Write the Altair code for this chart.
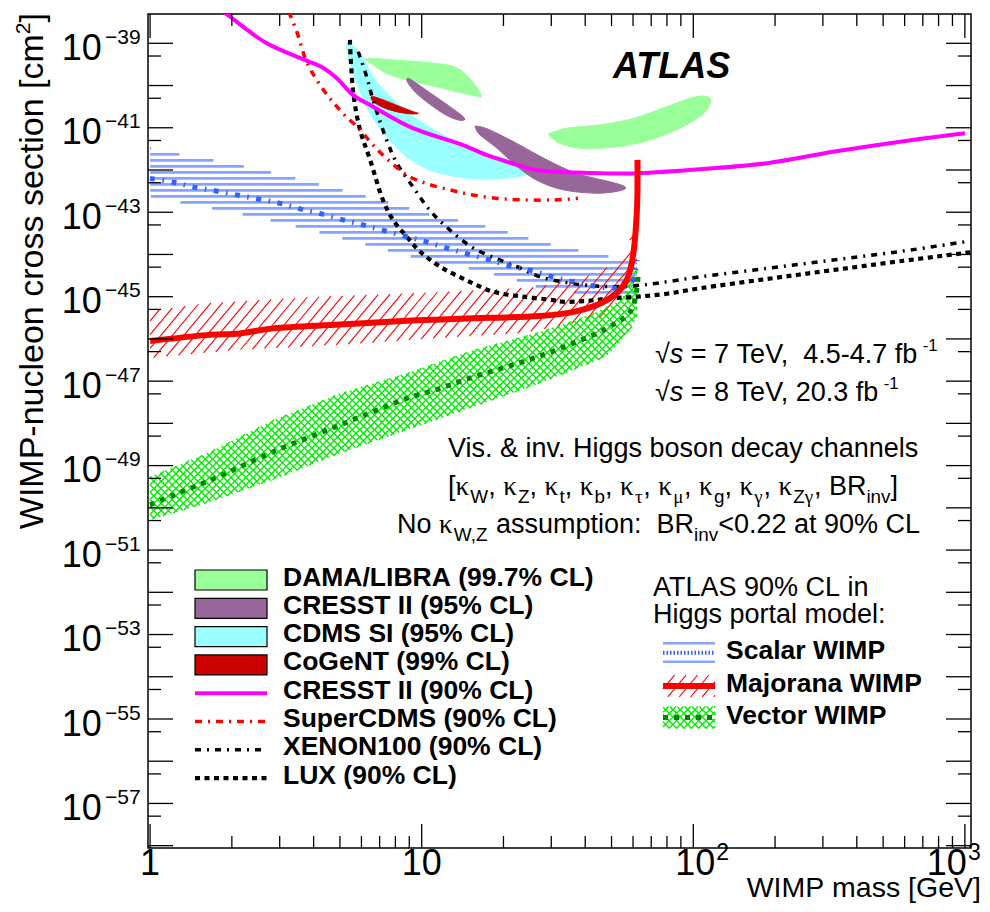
import numpy as np
import pandas as pd
import altair as alt

# ------------------------------------------------------------------
# Values: WIMP mass [GeV], log10(sigma / cm^2)
# ------------------------------------------------------------------
cresst90_m = [1.86, 1.97, 2.69, 3.77, 4.33, 4.86, 5.58, 6.62, 9.29, 14.2, 17.4, 19.4, 26.6, 37.3, 60.0, 106, 187, 327, 577, 1000]
cresst90_s = [-38.25, -38.37, -39.00, -39.41, -39.58, -39.82, -40.22, -40.50, -41.01, -41.41, -41.65, -41.75, -42.00, -42.06, -42.08, -41.98, -41.84, -41.57, -41.33, -41.13]
supercdms_m = [3.24, 3.47, 3.77, 4.11, 4.59, 5.13, 5.93, 6.62, 7.64, 8.81, 10.4, 12.7, 15.4, 20.6, 30.4, 37.6]
supercdms_s = [-38.25, -38.73, -39.44, -39.87, -40.30, -40.66, -41.05, -41.41, -41.80, -42.12, -42.32, -42.47, -42.59, -42.69, -42.71, -42.67]
xenon_m = [5.84, 6.27, 6.62, 7.43, 8.09, 9.29, 10.7, 12.7, 15.5, 19.4, 23.0, 27.3, 33.1, 39.3, 48.1, 58.5, 73.5, 106, 187, 327, 577, 1000]
xenon_s = [-39.20, -39.79, -40.34, -41.29, -41.83, -42.40, -42.95, -43.42, -43.85, -44.13, -44.32, -44.53, -44.65, -44.72, -44.76, -44.75, -44.68, -44.53, -44.33, -44.13, -43.93, -43.70]
lux_m = [5.44, 5.60, 5.93, 6.46, 7.20, 7.84, 8.81, 9.86, 11.7, 14.6, 18.3, 23.6, 30.4, 33.1, 40.6, 49.3, 62.1, 80.0, 106, 187, 327, 577, 1045]
lux_s = [-38.92, -40.18, -41.05, -41.76, -42.71, -43.18, -43.58, -43.93, -44.29, -44.61, -44.88, -45.00, -45.08, -45.12, -45.10, -45.04, -45.00, -44.93, -44.80, -44.58, -44.37, -44.16, -43.95]

scalar_m = [1.0, 1.215, 1.44, 1.73, 2.08, 2.50, 3.01, 3.56, 4.28, 5.13, 6.08, 7.33, 8.81, 10.4, 12.4, 14.8, 17.8, 21.1, 25.4, 30.4, 36.1, 43.5, 52.4, 57.5, 60.0, 62.1]
scalar_s = [-42.20, -42.29, -42.40, -42.49, -42.59, -42.69, -42.79, -42.92, -43.04, -43.18, -43.30, -43.44, -43.58, -43.70, -43.85, -43.99, -44.13, -44.27, -44.38, -44.53, -44.65, -44.75, -44.80, -44.72, -44.60, -44.13]
scalar_hi_m = [1.0, 1.135, 1.484, 1.968, 2.47, 3.09, 3.77, 4.66, 5.60, 6.83, 8.32, 10.5, 16.4, 20.6, 25.1, 31.5, 44.2, 62.1]
scalar_hi_s = [-41.48, -41.57, -41.70, -41.84, -41.98, -42.12, -42.27, -42.41, -42.55, -42.69, -42.84, -43.04, -43.30, -43.47, -43.63, -43.80, -43.99, -44.18]
scalar_lo_m = [1.0, 1.118, 1.484, 1.94, 2.47, 3.09, 3.77, 4.66, 5.60, 6.83, 8.19, 10.7, 14.7, 21.1, 28.9, 38.3, 62.1]
scalar_lo_s = [-42.62, -42.69, -42.84, -42.98, -43.12, -43.26, -43.40, -43.55, -43.69, -43.83, -43.97, -44.16, -44.32, -44.56, -44.84, -44.91, -44.94]

majorana_m = [1.0, 1.615, 2.14, 2.84, 5.00, 8.81, 11.7, 17.8, 27.3, 36.2, 45.4, 52.2, 56.9, 59.3, 60.5, 61.5, 62.2, 62.3]
majorana_s = [-46.05, -45.91, -45.87, -45.75, -45.66, -45.57, -45.54, -45.50, -45.46, -45.36, -45.16, -44.92, -44.60, -44.21, -43.85, -43.34, -42.71, -41.76]
majorana_hi_m = [1.0, 1.62, 3.78, 11.7, 27.1, 41.6, 48.3, 54.2, 58.9, 62.1]
majorana_hi_s = [-45.34, -45.15, -45.01, -44.89, -44.77, -44.49, -44.30, -44.02, -43.61, -43.30]
majorana_lo_m = [1.0, 2.14, 5.00, 11.7, 23.6, 33.9, 45.4, 54.2, 60.0, 62.1]
majorana_lo_s = [-46.45, -46.26, -46.14, -45.98, -45.86, -45.67, -45.50, -45.20, -44.72, -44.18]

vector_m = [1.0, 1.217, 1.615, 2.14, 2.84, 3.77, 5.00, 6.63, 8.81, 11.7, 15.5, 20.6, 27.3, 36.2, 48.0, 58.5, 61.9, 62.6]
vector_s = [-49.93, -49.70, -49.38, -49.03, -48.67, -48.35, -48.04, -47.72, -47.41, -47.17, -46.90, -46.66, -46.40, -46.10, -45.75, -45.36, -44.84, -44.53]
vector_hi_m = [1.0, 1.615, 2.84, 5.00, 8.81, 15.5, 27.3, 41.6, 54.2, 62.1]
vector_hi_s = [-49.26, -48.71, -47.92, -47.29, -46.81, -46.26, -45.83, -45.43, -45.08, -44.27]
vector_lo_m = [1.0, 1.615, 2.84, 5.00, 8.81, 15.5, 27.3, 48.0, 58.5, 62.1]
vector_lo_s = [-50.29, -49.89, -49.34, -48.71, -48.16, -47.61, -47.05, -46.42, -45.79, -45.48]

dama1_m = [6.27, 8.09, 10.7, 13.1, 14.6, 15.9, 16.6, 15.9, 13.5, 10.7, 8.81, 7.43, 6.63]
dama1_s = [-39.36, -39.40, -39.46, -39.55, -39.75, -40.03, -40.25, -40.25, -40.15, -39.99, -39.87, -39.71, -39.51]
dama2_m = [29.7, 34.2, 45.4, 60.1, 79.8, 100, 112, 116, 109, 91.9, 69.3, 52.2, 39.4, 32.3, 29.5]
dama2_s = [-41.13, -41.01, -40.93, -40.78, -40.50, -40.28, -40.26, -40.38, -40.66, -40.97, -41.29, -41.45, -41.49, -41.37, -41.17]
cresst1_m = [8.93, 9.58, 11.0, 12.7, 14.0, 14.4, 13.5, 12.0, 10.4, 9.45, 8.85]
cresst1_s = [-39.83, -39.95, -40.22, -40.50, -40.70, -40.81, -40.81, -40.66, -40.38, -40.15, -39.91]
cresst2_m = [15.9, 17.8, 22.4, 28.9, 37.2, 49.4, 56.1, 53.7, 44.1, 33.2, 26.5, 22.4, 18.9, 16.4, 15.8]
cresst2_s = [-40.96, -41.05, -41.37, -41.76, -42.08, -42.28, -42.40, -42.49, -42.55, -42.47, -42.24, -41.91, -41.48, -41.17, -41.01]
cdms_m = [5.30, 5.93, 6.63, 7.64, 9.31, 11.7, 15.1, 18.9, 23.7, 26.1, 25.8, 22.4, 16.9, 13.5, 10.7, 8.81, 7.43, 6.45, 5.84, 5.45]
cdms_s = [-39.00, -39.24, -39.79, -40.26, -40.74, -41.13, -41.49, -41.69, -41.80, -41.92, -42.04, -42.16, -42.22, -42.16, -42.00, -41.69, -41.21, -40.66, -40.03, -39.47]
cogent_m = [6.55, 7.22, 8.32, 9.31, 9.72, 9.05, 8.09, 7.22, 6.63]
cogent_s = [-40.26, -40.34, -40.50, -40.62, -40.66, -40.67, -40.62, -40.52, -40.38]

legend_left = ["DAMA/LIBRA (99.7% CL)", "CRESST II (95% CL)", "CDMS SI (95% CL)", "CoGeNT (99% CL)",
               "CRESST II (90% CL)", "SuperCDMS (90% CL)", "XENON100 (90% CL)", "LUX (90% CL)"]
legend_right = ["Scalar WIMP", "Majorana WIMP", "Vector WIMP"]
xlab_vals = [1, 10, 100, 1000]
xlab_exp = ["", "", "2", "3"]
ylab_exp = list(range(-39, -58, -2))

# ------------------------------------------------------------------
# Layout / style
# ------------------------------------------------------------------
SANS = "Liberation Sans"
SERIF = "Liberation Serif"
OX, OY = 148.0, 14.0          # page position of the plot frame
W, H = 823, 834
LX0, LX1 = -0.00773, 3.0225
LY0, LY1 = -58.055, -38.306
Dx = W / (LX1 - LX0)
Dy = H / (LY1 - LY0)
xs = alt.Scale(type="log", domain=[10 ** LX0, 10 ** LX1], nice=False)
ys = alt.Scale(type="log", domain=[10 ** LY0, 10 ** LY1], nice=False)

C_DAMA, C_CRESST, C_CDMS, C_COGENT = "#99ff99", "#98679a", "#99ffff", "#cc0000"
C_MAG, C_RED, C_BLUE, C_HBLUE, C_HGREEN, C_DGREEN = "#ff00ff", "#ff0000", "#2f62ff", "#86a4ff", "#00ee00", "#008800"
DASH_SCDMS = [7, 6, 2, 6]
DASH_XENON = [6, 6, 2, 6]
DASH_LUX = [5, 4.5]
DASH_SCALAR = [5, 7.5, 1.6, 7.5]
DASH_VECTOR = [5, 6]


def XQ(f):
    return alt.X(f, type="quantitative", scale=xs, axis=None)


def YQ(f):
    return alt.Y(f, type="quantitative", scale=ys, axis=None)


def curve(m, s, color, width, dash=None, interp="catmull-rom"):
    df = pd.DataFrame({"m": m, "s": 10.0 ** np.asarray(s), "i": np.arange(len(m))})
    kw = dict(color=color, strokeWidth=width, clip=True, strokeCap="butt", interpolate=interp)
    if dash:
        kw["strokeDash"] = dash
    return alt.Chart(df).mark_line(**kw).encode(x=XQ("m"), y=YQ("s"), order="i:Q")


def blob(m, s, color):
    df = pd.DataFrame({"m": m, "s": 10.0 ** np.asarray(s), "i": np.arange(len(m))})
    return alt.Chart(df).mark_line(fill=color, stroke=color, strokeWidth=1, clip=True,
                                   interpolate="cardinal-closed").encode(x=XQ("m"), y=YQ("s"), order="i:Q")


def hatch_core(u, vlo, vhi, slope, spacing):
    step = spacing * np.hypot(1.0, slope)
    c0 = vlo - slope * u
    c1 = vhi - slope * u
    cs = np.arange(np.floor(min(c0.min(), c1.min()) / step) * step, max(c0.max(), c1.max()) + step, step)
    out = []
    for c in cs:
        v = slope * u + c
        ins = (v >= vlo) & (v <= vhi)
        d = np.diff(np.r_[0, ins.astype(int), 0])
        st = np.flatnonzero(d == 1)
        en = np.flatnonzero(d == -1) - 1
        for a, b in zip(st, en):
            if b > a:
                out.append((u[a], v[a], u[b], v[b]))
    return out


def hatch_data(lo_m, lo_s, hi_m, hi_s, slope, spacing, n=2500):
    lxl, lxh = np.log10(lo_m), np.log10(hi_m)
    lx = np.linspace(max(lxl[0], lxh[0]), min(lxl[-1], lxh[-1]), n)
    lo = np.interp(lx, lxl, lo_s)
    hi = np.interp(lx, lxh, hi_s)
    segs = hatch_core(lx * Dx, lo * Dy, hi * Dy, slope, spacing)
    rows = [(10 ** (a / Dx), 10 ** (b / Dy), 10 ** (c / Dx), 10 ** (d / Dy)) for a, b, c, d in segs]
    return pd.DataFrame(rows, columns=["x1", "y1", "x2", "y2"])


def seg_layer(df, color, width):
    return alt.Chart(df).mark_rule(color=color, strokeWidth=width, clip=True).encode(
        x=XQ("x1"), y=YQ("y1"), x2="x2:Q", y2="y2:Q")


def PX(f):
    return alt.X(f, type="quantitative", scale=None, axis=None)


def PY(f):
    return alt.Y(f, type="quantitative", scale=None, axis=None)


def px_rules(rows, color, width, dash=None):
    df = pd.DataFrame([(a - OX, b - OY, c - OX, d - OY) for a, b, c, d in rows], columns=["x1", "y1", "x2", "y2"])
    kw = dict(color=color, strokeWidth=width, strokeCap="butt")
    if dash:
        kw["strokeDash"] = dash
    return alt.Chart(df).mark_rule(**kw).encode(x=PX("x1"), y=PY("y1"), x2="x2:Q", y2="y2:Q")


def px_hatch_box(x0, x1, y0, y1, slope, spacing):
    u = np.linspace(x0, x1, 400)
    segs = hatch_core(u, np.full_like(u, -y1), np.full_like(u, -y0), slope, spacing)
    return [(a, -b, c, -d) for a, b, c, d in segs]


# ------------------------------------------------------------------
# Text helpers (Arial-metric widths, 1/1000 em)
# ------------------------------------------------------------------
AW = {" ": 278, "!": 278, "%": 889, "&": 667, "(": 333, ")": 333, ",": 278, "-": 333, ".": 278,
      "/": 278, ":": 278, "<": 584, "=": 584, "[": 278, "]": 278, "\u221a": 549, "\u2212": 584,
      "\u03ba": 550, "\u03c4": 440, "\u03bc": 580, "\u03b3": 480}
for ch in "0123456789":
    AW[ch] = 556
AW.update(dict(zip("ABCDEFGHIJKLMNOPQRSTUVWXYZ",
                   [667, 667, 722, 722, 667, 611, 778, 722, 278, 500, 667, 556, 833, 722, 778, 667, 778, 722, 667, 611, 722, 667, 944, 667, 667, 611])))
AW.update(dict(zip("abcdefghijklmnopqrstuvwxyz",
                   [556, 556, 500, 556, 556, 278, 556, 556, 222, 222, 500, 222, 833, 556, 556, 556, 556, 333, 500, 278, 556, 500, 722, 500, 500, 500])))


def tw(txt, fs):
    return sum(AW.get(ch, 556) for ch in txt) * fs / 1000.0


ann = []


def put(px, py, txt, fs, fam=SANS, sty="normal", wt="normal", align="left", angle=0):
    ann.append(dict(px=px - OX, py=py - OY, txt=txt.replace(" ", "\u00a0"), fs=fs, fam=fam, sty=sty,
                    wt=wt, align=align, angle=angle))


def run(pieces, x0, base, F):
    x = x0
    for txt, kind in pieces:
        fam, sty, fs, dy = SANS, "normal", F, 0.0
        if kind == "it":
            sty = "italic"
        elif kind == "g":
            fam = SERIF
        elif kind == "sub":
            fs, dy = 0.7 * F, 0.3 * F
        elif kind == "subg":
            fam, fs, dy = SERIF, 0.7 * F, 0.3 * F
        elif kind == "sup":
            fs, dy = 0.62 * F, -0.45 * F
        lead = len(txt) - len(txt.lstrip(" "))
        x += tw(" " * lead, fs)
        core = txt.strip(" ")
        if core:
            put(x, base + dy, core, fs, fam=fam, sty=sty)
        x += tw(txt.lstrip(" "), fs)


K = "\u03ba"
F = 27
run([("\u221a", "n"), ("s", "it"), (" = 7 TeV,  4.5-4.7 fb", "n"), ("-1", "sup")], 655, 363, F)
run([("\u221a", "n"), ("s", "it"), (" = 8 TeV, 20.3 fb", "n"), ("-1", "sup")], 655, 401, F)
run([("Vis. & inv. Higgs boson decay channels", "n")], 448, 457, F)
p4 = [("[", "n")]
for sub, kind in [("W", "sub"), ("Z", "sub"), ("t", "sub"), ("b", "sub"), ("\u03c4", "subg"), ("\u03bc", "subg"),
                  ("g", "sub"), ("\u03b3", "subg")]:
    p4 += [(K, "g"), (sub, kind), (", ", "n")]
p4 += [(K, "g"), ("Z", "sub"), ("\u03b3", "subg"), (", BR", "n"), ("inv", "sub"), ("]", "n")]
run(p4, 448, 495, F)
run([("No ", "n"), (K, "g"), ("W,Z", "sub"), (" assumption:  BR", "n"), ("inv", "sub"), ("<0.22 at 90% CL", "n")], 397, 533, F)

put(613, 78, "ATLAS", 36, sty="italic", wt="bold")

# left legend
LBOX_X0, LBOX_X1 = 195, 267
lrow = [580 + 28.3 * k for k in range(8)]
for k, lab in enumerate(legend_left):
    put(283, lrow[k] + 5.5, lab, 26.5, wt="bold")
# right legend
put(653, 596, "ATLAS 90% CL in", 27)
put(653, 623, "Higgs portal model:", 27)
rrow = [652.7, 686, 717.5]
for k, lab in enumerate(legend_right):
    put(726, rrow[k] + 6, lab, 26.5, wt="bold")

# axis titles
put(981, 897, "WIMP mass [GeV]", 28.5, align="right")
YT_F = 34
ytop = 13
YT_BASE = 43
put(YT_BASE, ytop, "]", YT_F, align="right", angle=270)
put(YT_BASE - 0.38 * YT_F, ytop + tw("]", YT_F), "2", 0.62 * YT_F, align="right", angle=270)
put(YT_BASE, ytop + tw("]", YT_F) + tw("2", 0.62 * YT_F), "WIMP-nucleon cross section [cm", YT_F, align="right", angle=270)

ann_df = pd.DataFrame(ann)
text_layers = []
for (fam, sty, wt, align, angle), g in ann_df.groupby(["fam", "sty", "wt", "align", "angle"]):
    text_layers.append(
        alt.Chart(g.reset_index(drop=True)).mark_text(font=fam, fontStyle=sty, fontWeight=wt, align=align,
                                                      baseline="alphabetic", angle=int(angle), color="black").encode(
            x=PX("px"), y=PY("py"), text="txt:N", size=alt.Size("fs:Q", scale=None, legend=None)))

# ------------------------------------------------------------------
# Ticks (inside the frame, all four sides) and tick labels
# ------------------------------------------------------------------
xmaj = [1, 10, 100, 1000]
xmin_ = [k * 10 ** n for n in range(3) for k in range(2, 10)]
xt = pd.DataFrame({"v": xmaj * 2 + xmin_ * 2,
                   "a": [H] * 4 + [0] * 4 + [H] * 24 + [0] * 24,
                   "b": [H - 24] * 4 + [24] * 4 + [H - 12] * 24 + [12] * 24})
ymaj = [10.0 ** e for e in range(-58, -38)]
ymin_ = [5 * 10.0 ** (e - 1) for e in range(-57, -38)]
yt = pd.DataFrame({"v": ymaj * 2 + ymin_ * 2,
                   "a": [0] * 20 + [W] * 20 + [0] * 19 + [W] * 19,
                   "b": [25] * 20 + [W - 25] * 20 + [13] * 19 + [W - 13] * 19})
xtick = alt.Chart(xt).mark_rule(color="black", strokeWidth=1.3).encode(x=XQ("v"), y=PY("a"), y2="b:Q")
ytick = alt.Chart(yt).mark_rule(color="black", strokeWidth=1.3).encode(y=YQ("v"), x=PX("a"), x2="b:Q")

ylab = pd.DataFrame({"v": [10.0 ** e for e in ylab_exp], "e": ["\u2212" + str(-e) for e in ylab_exp]})
ylab_base = alt.Chart(ylab).mark_text(font=SANS, fontSize=36, align="right", baseline="alphabetic", dy=16.7,
                                      text="10", color="black").encode(x=alt.value(101.7 - OX), y=YQ("v"))
ylab_sup = alt.Chart(ylab).mark_text(font=SANS, fontSize=21, align="left", baseline="alphabetic", dy=0.7,
                                     color="black").encode(x=alt.value(105 - OX), y=YQ("v"), text="e:N")
XL_BASE = H + 27
xl = pd.DataFrame({"v": xlab_vals, "e": xlab_exp, "dx": [0, 0, 22, 2]})
xlab_plain = alt.Chart(xl[xl.e == ""]).mark_text(font=SANS, fontSize=36, align="center", baseline="alphabetic",
                                                 color="black").encode(
    x=XQ("v"), y=alt.value(XL_BASE), text=alt.Text("v:Q", format="d"))
xl_e = xl[xl.e != ""].reset_index(drop=True)
xlab_base = alt.layer(*[
    alt.Chart(xl_e.iloc[[k]]).mark_text(font=SANS, fontSize=36, align="right", baseline="alphabetic",
                                        dx=float(xl_e.dx[k]), text="10", color="black").encode(x=XQ("v"), y=alt.value(XL_BASE))
    for k in range(len(xl_e))])
xlab_sup = alt.layer(*[
    alt.Chart(xl_e.iloc[[k]]).mark_text(font=SANS, fontSize=23, align="left", baseline="alphabetic",
                                        dx=float(xl_e.dx[k]) + 1, color="black").encode(x=XQ("v"), y=alt.value(XL_BASE - 15), text="e:N")
    for k in range(len(xl_e))])

# ------------------------------------------------------------------
# Bands (hatched), exclusion curves and contours
# ------------------------------------------------------------------
h_scalar = seg_layer(hatch_data(scalar_lo_m, scalar_lo_s, scalar_hi_m, scalar_hi_s, 0.0, 6.0), C_HBLUE, 2.7)
h_major = seg_layer(hatch_data(majorana_lo_m, majorana_lo_s, majorana_hi_m, majorana_hi_s, 1.2, 8.8), C_RED, 1.1)
h_vec1 = seg_layer(hatch_data(vector_lo_m, vector_lo_s, vector_hi_m, vector_hi_s, 1.0, 5.2), C_HGREEN, 1.4)
h_vec2 = seg_layer(hatch_data(vector_lo_m, vector_lo_s, vector_hi_m, vector_hi_s, -1.0, 5.2), C_HGREEN, 1.4)

layers = [
    h_scalar, h_major, h_vec1, h_vec2,
    blob(cdms_m, cdms_s, C_CDMS),
    blob(dama1_m, dama1_s, C_DAMA), blob(dama2_m, dama2_s, C_DAMA),
    blob(cresst1_m, cresst1_s, C_CRESST), blob(cresst2_m, cresst2_s, C_CRESST),
    blob(cogent_m, cogent_s, C_COGENT),
    curve(lux_m, lux_s, "black", 4.2, DASH_LUX),
    curve(xenon_m, xenon_s, "black", 3.5, DASH_XENON),
    curve(supercdms_m, supercdms_s, C_RED, 3.5, DASH_SCDMS),
    curve(cresst90_m, cresst90_s, C_MAG, 4),
    curve(scalar_m, scalar_s, C_BLUE, 5, DASH_SCALAR),
    curve(majorana_m, majorana_s, C_RED, 6),
    curve(vector_m, vector_s, C_DGREEN, 5, DASH_VECTOR),
    xtick, ytick, ylab_base, ylab_sup, xlab_plain, xlab_base, xlab_sup,
]

# ------------------------------------------------------------------
# Legends (drawn in page pixels)
# ------------------------------------------------------------------
box_rows = []
for k, col in enumerate([C_DAMA, C_CRESST, C_CDMS, C_COGENT]):
    box_rows.append((LBOX_X0 - OX, LBOX_X1 - OX, lrow[k] - 10 - OY, lrow[k] + 10 - OY, col))
boxes = alt.Chart(pd.DataFrame(box_rows, columns=["x1", "x2", "y1", "y2", "col"])).mark_rect(
    stroke="black", strokeWidth=1.2).encode(x=PX("x1"), x2="x2:Q", y=PY("y1"), y2="y2:Q",
                                            fill=alt.Fill("col:N", scale=None))
layers.append(boxes)
layers.append(px_rules([(LBOX_X0, lrow[4], LBOX_X1, lrow[4])], C_MAG, 4))
layers.append(px_rules([(LBOX_X0, lrow[5], LBOX_X1, lrow[5])], C_RED, 3.5, DASH_SCDMS))
layers.append(px_rules([(LBOX_X0, lrow[6], LBOX_X1, lrow[6])], "black", 3.5, DASH_XENON))
layers.append(px_rules([(LBOX_X0, lrow[7], LBOX_X1, lrow[7])], "black", 4.2, DASH_LUX))

RX0, RX1 = 663, 715
layers.append(px_rules([(RX0, rrow[0] - 9.4, RX1, rrow[0] - 9.4), (RX0, rrow[0] + 9, RX1, rrow[0] + 9)], C_HBLUE, 2.5))
layers.append(px_rules([(RX0, rrow[0], RX1, rrow[0])], C_BLUE, 4, [1.5, 2]))
layers.append(px_rules(px_hatch_box(RX0, RX1, rrow[1] - 11, rrow[1] + 11, 1.2, 8.8), C_RED, 1.1))
layers.append(px_rules([(RX0, rrow[1], RX1, rrow[1])], C_RED, 6))
layers.append(px_rules(px_hatch_box(RX0, RX1, rrow[2] - 11, rrow[2] + 11, 1.0, 5.2), C_HGREEN, 1.4))
layers.append(px_rules(px_hatch_box(RX0, RX1, rrow[2] - 11, rrow[2] + 11, -1.0, 5.2), C_HGREEN, 1.4))
layers.append(px_rules([(RX0, rrow[2], RX1, rrow[2])], C_DGREEN, 5, DASH_VECTOR))

layers += text_layers

chart = alt.layer(*layers).properties(
    width=W, height=H,
    padding={"left": 140, "top": 6, "right": 11, "bottom": 56},
    autosize=alt.AutoSizeParams(type="none"),
).configure_view(stroke="black", strokeWidth=1.5)

chart.save("out.html", embed_options={"renderer": "svg", "actions": False})
